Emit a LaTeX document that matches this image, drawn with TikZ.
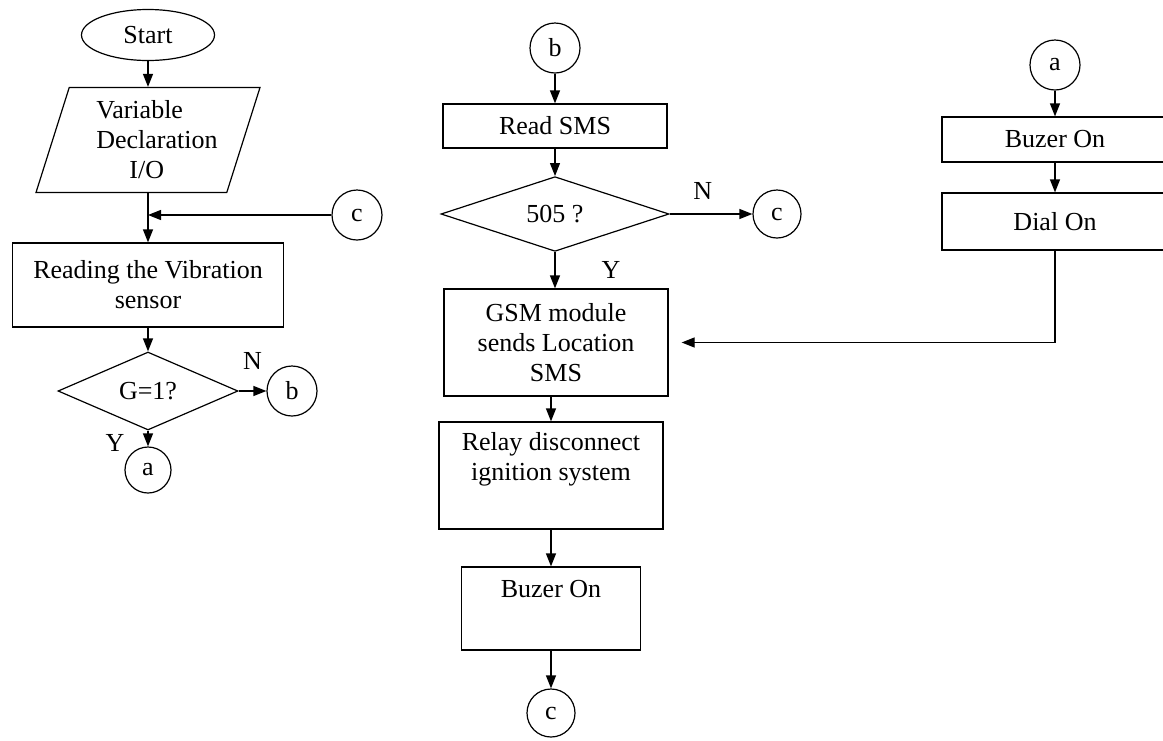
\documentclass[tikz,border=0pt]{standalone}
\usepackage{fontspec}
\setmainfont{Liberation Serif}
\usetikzlibrary{shapes.geometric,arrows.meta}

\tikzset{
  box/.style={draw, rectangle, inner sep=0pt, align=center},
  decision/.style={draw, diamond, inner sep=0pt, align=center},
  inout/.style={draw, trapezium, trapezium left angle=67, trapezium right angle=113,
    trapezium stretches body, inner sep=0pt, align=left},
  conn/.style={draw, circle, inner sep=0pt, minimum size=#1},
  conn/.default=50pt,
  lbl/.style={inner sep=2pt}
}

\begin{document}
\begin{tikzpicture}[x=1pt, y=-1pt, line width=1.2pt, >={Triangle[length=13pt,width=10pt]},
  font=\fontsize{26}{30}\selectfont]
  \useasboundingbox (0,0) rectangle (1163,740);
  \clip (0,0) rectangle (1163,740);

  \node[draw, ellipse, inner sep=0pt, minimum width=133pt, minimum height=51pt] (start) at (148,35) {Start};
  \node[inout, minimum width=224pt, minimum height=105pt] (decl) at (148,140)
    {\hspace*{18pt}Variable\\\hspace*{18pt}Declaration\\\hspace*{51pt}I/O};
  \node[box, minimum width=271pt, minimum height=84pt] (vib) at (148,285) {Reading the Vibration\\sensor};
  \node[decision, minimum width=180pt, minimum height=78pt] (g1) at (148,391) {G=1?};
  \node[conn] (b1) at (292,391) {b};
  \node[conn=46pt] (a1) at (148,470) {a};
  \node[conn] (c1) at (357,215) {c};
  \coordinate (j1) at (decl.center |- c1);

  \node[conn] (b2) at (555,48) {b};
  \node[box, minimum width=224pt, minimum height=44pt] (sms) at (555,126) {Read SMS};
  \node[decision, minimum width=228pt, minimum height=68pt] (g2) at (555,214) {505 ?};
  \node[conn=48pt] (c2) at (777,214) {c};
  \node[box, minimum width=224pt, minimum height=107pt] (gsm) at (556,342.5) {GSM module\\sends Location\\SMS};
  \node[box, minimum width=224pt, minimum height=107pt] (relay) at (551,475.5) {Relay disconnect\\ignition system\\\strut};
  \node[box, minimum width=179pt, minimum height=83pt] (buz1) at (551,608.5) {Buzer On\\\strut};
  \node[conn=48pt] (c3) at (551,713) {c};

  \node[conn] (a2) at (1055,65) {a};
  \node[box, minimum width=226pt, minimum height=45pt] (buz2) at (1055,139.5) {Buzer On};
  \node[box, minimum width=226pt, minimum height=57pt] (dial) at (1055,221.5) {Dial On};

  \path[->]
  (start) edge (decl)
  (vib) edge (g1)
  (g1) edge node[lbl, above=19pt] (n1) {N} (b1)
  (g1) edge node[lbl, left=21pt, yshift=-4pt] (y1) {Y} (a1)
  (c1) edge (j1)
  (b2) edge (sms)
  (sms) edge (g2)
  (g2) edge node[lbl, pos=0.4, above=12pt] (n2) {N} (c2)
  (g2) edge node[lbl, right=44pt] (y2) {Y} (gsm.north -| g2)
  (relay) edge (buz1)
  (buz1) edge (c3)
  (a2) edge (buz2)
  (buz2) edge (dial)
  ;
  \draw[->] (decl.center |- decl.south) -- (vib);
  \draw[->] (gsm.south -| relay) -- (relay);
  \draw[->, shorten >=13pt] (dial) |- (gsm);
\end{tikzpicture}
\end{document}
